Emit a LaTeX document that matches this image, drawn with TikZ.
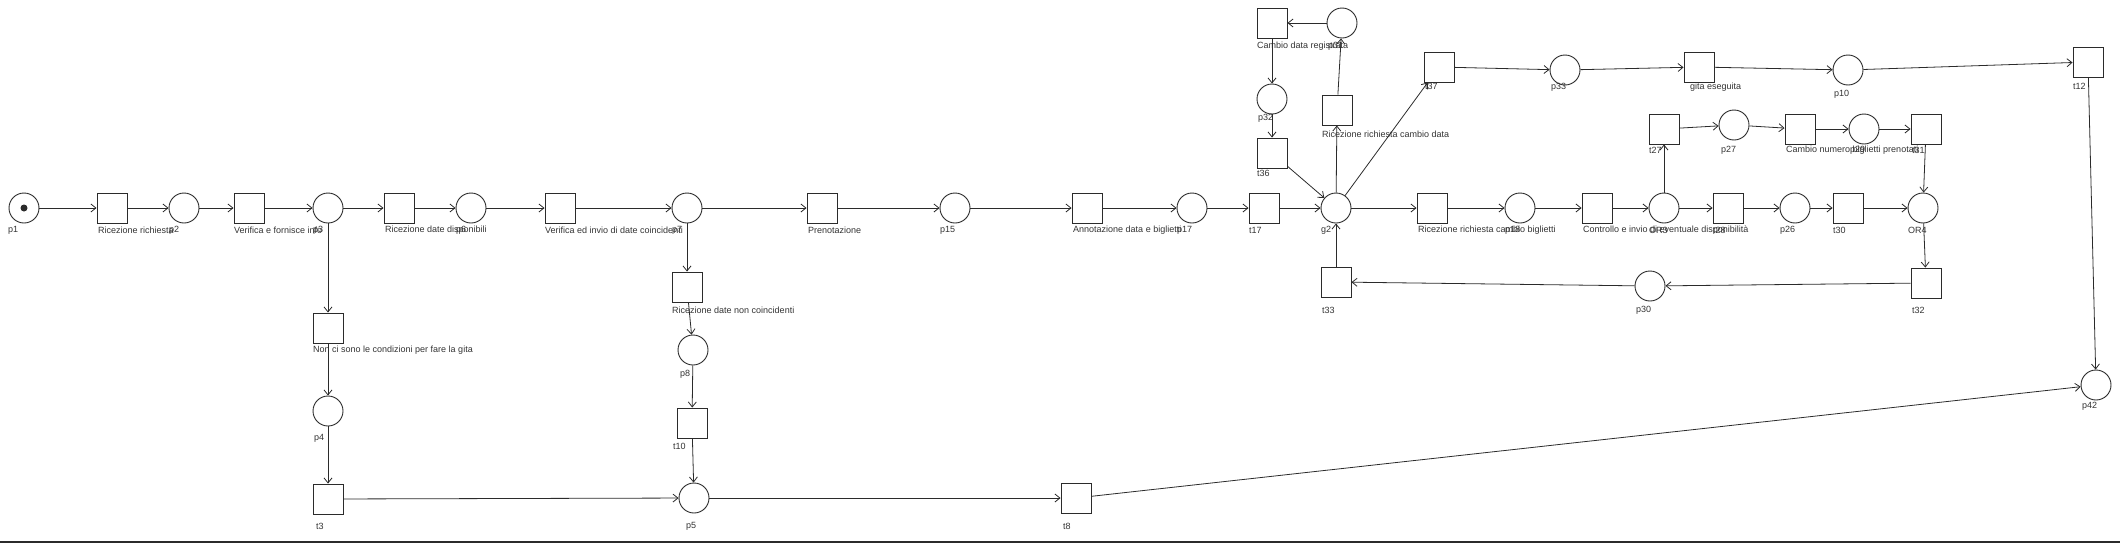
\documentclass[tikz,border=0pt]{standalone}
\usepackage{fontspec}
\setmainfont{Liberation Sans}
\usetikzlibrary{arrows.meta}
\definecolor{ink}{HTML}{2B2B2B}
\definecolor{txt}{HTML}{333333}
\tikzset{
  pl/.style={draw=ink, line width=0.9pt, circle, minimum size=30pt, inner sep=0pt},
  tr/.style={draw=ink, line width=0.9pt, rectangle, minimum size=30pt, inner sep=0pt},
  lab/.style={anchor=west, inner sep=0pt, font=\fontsize{9}{10}\selectfont, text=txt},
  arc/.style={draw=ink, line width=0.8pt, -{Straight Barb[length=5pt,width=8pt]}},
}
\begin{document}
\begin{tikzpicture}[x=1pt,y=-1pt]
\useasboundingbox (0,0) rectangle (2120,544);
% main row
\node[pl] (p1) at (24,208) {};
\fill[ink] (p1.center) circle (3.5pt);
\node[tr] (tRR) at (112,208) {};
\node[pl] (p2) at (184,208) {};
\node[tr] (tVF) at (249,208) {};
\node[pl] (p3) at (328,208) {};
\node[tr] (tRDD) at (399,208) {};
\node[pl] (p6) at (471,208) {};
\node[tr] (tVI) at (560,208) {};
\node[pl] (p7) at (687,208) {};
\node[tr] (tPR) at (822,208) {};
\node[pl] (p15) at (955,208) {};
\node[tr] (tAN) at (1087,208) {};
\node[pl] (p17) at (1192,208) {};
\node[tr] (t17) at (1264,208) {};
\node[pl] (g2) at (1336,208) {};
\node[tr] (tRCB) at (1432,208) {};
\node[pl] (p18) at (1520,208) {};
\node[tr] (tCO) at (1597,208) {};
\node[pl] (OR3) at (1664,208) {};
\node[tr] (t28) at (1728,208) {};
\node[pl] (p26) at (1795,208) {};
\node[tr] (t30) at (1848,208) {};
\node[pl] (OR4) at (1923,208) {};
% upper right row
\node[tr] (t27) at (1664,129) {};
\node[pl] (p27) at (1734,125) {};
\node[tr] (tCN) at (1800,129) {};
\node[pl] (p29) at (1864,129) {};
\node[tr] (t31) at (1926,129) {};
% lower right row
\node[tr] (t32) at (1926,283) {};
\node[pl] (p30) at (1650,286) {};
\node[tr] (t33) at (1336,282) {};
% top cluster
\node[tr] (tCDR) at (1272,23) {};
\node[pl] (p31) at (1342,23) {};
\node[pl] (p32) at (1272,99) {};
\node[tr] (t36) at (1272,153) {};
\node[tr] (tRCD) at (1337,110) {};
\node[tr] (t37) at (1439,67) {};
\node[pl] (p33) at (1565,70) {};
\node[tr] (tGE) at (1699,67) {};
\node[pl] (p10) at (1848,70) {};
\node[tr] (t12) at (2088,62) {};
\node[pl] (p42) at (2096,385) {};
% lower left
\node[tr] (tNC) at (328,328) {};
\node[pl] (p4) at (328,411) {};
\node[tr] (t3) at (328,499) {};
\node[tr] (tRDN) at (687,287) {};
\node[pl] (p8) at (693,350) {};
\node[tr] (t10) at (692,423) {};
\node[pl] (p5) at (694,498) {};
\node[tr] (t8) at (1076,498) {};
% labels
\node[lab] (l-p1) at (8,230) {p1};
\node[lab] (l-tRR) at (98,230) {Ricezione richiesta};
\node[lab] (l-p2) at (169,230) {p2};
\node[lab] (l-tVF) at (234,230) {Verifica e fornisce info};
\node[lab] (l-p3) at (313,230) {p3};
\node[lab] (l-tRDD) at (385,230) {Ricezione date disponibili};
\node[lab] (l-p6) at (456,230) {p6};
\node[lab] (l-tVI) at (545,230) {Verifica ed invio di date coincidenti};
\node[lab] (l-p7) at (672,230) {p7};
\node[lab] (l-tPR) at (808,230) {Prenotazione};
\node[lab] (l-p15) at (940,230) {p15};
\node[lab] (l-tAN) at (1073,230) {Annotazione data e biglietti};
\node[lab] (l-p17) at (1177,230) {p17};
\node[lab] (l-t17) at (1249,230) {t17};
\node[lab] (l-g2) at (1321,230) {g2};
\node[lab] (l-tRCB) at (1418,230) {Ricezione richiesta cambio biglietti};
\node[lab] (l-p18) at (1505,230) {p18};
\node[lab] (l-tCO) at (1583,230) {Controllo e invio di eventuale disponibilità};
\node[lab] (l-OR3) at (1649,230) {OR3};
\node[lab] (l-t28) at (1713,230) {t28};
\node[lab] (l-p26) at (1780,230) {p26};
\node[lab] (l-t30) at (1833,230) {t30};
\node[lab] (l-OR4) at (1908,230) {OR4};
\node[lab] (l-t27) at (1649,150) {t27};
\node[lab] (l-p27) at (1721,150) {p27};
\node[lab] (l-tCN) at (1786,150) {Cambio numero biglietti prenotati};
\node[lab] (l-p29) at (1850,150) {p29};
\node[lab] (l-t31) at (1912,150) {t31};
\node[lab] (l-t32) at (1912,310) {t32};
\node[lab] (l-p30) at (1636,310) {p30};
\node[lab] (l-t33) at (1322,310) {t33};
\node[lab] (l-tCDR) at (1257,46) {Cambio data registrata};
\node[lab] (l-p31) at (1328,46) {p31};
\node[lab] (l-p32) at (1258,118) {p32};
\node[lab] (l-t36) at (1257,173) {t36};
\node[lab] (l-tRCD) at (1322,134) {Ricezione richiesta cambio data};
\node[lab] (l-t37) at (1425,86) {t37};
\node[lab] (l-p33) at (1551,87) {p33};
\node[lab] (l-tGE) at (1690,87) {gita eseguita};
\node[lab] (l-p10) at (1834,94) {p10};
\node[lab] (l-t12) at (2073,86) {t12};
\node[lab] (l-p42) at (2082,406) {p42};
\node[lab] (l-tNC) at (313,350) {Non ci sono le condizioni per fare la gita};
\node[lab] (l-p4) at (314,438) {p4};
\node[lab] (l-t3) at (316,526) {t3};
\node[lab] (l-tRDN) at (672,310) {Ricezione date non coincidenti};
\node[lab] (l-p8) at (680,374) {p8};
\node[lab] (l-t10) at (673,446) {t10};
\node[lab] (l-p5) at (686,526) {p5};
\node[lab] (l-t8) at (1063,526) {t8};
% arcs main row
\draw[arc] (p1) -- (tRR);
\draw[arc] (tRR) -- (p2);
\draw[arc] (p2) -- (tVF);
\draw[arc] (tVF) -- (p3);
\draw[arc] (p3) -- (tRDD);
\draw[arc] (tRDD) -- (p6);
\draw[arc] (p6) -- (tVI);
\draw[arc] (tVI) -- (p7);
\draw[arc] (p7) -- (tPR);
\draw[arc] (tPR) -- (p15);
\draw[arc] (p15) -- (tAN);
\draw[arc] (tAN) -- (p17);
\draw[arc] (p17) -- (t17);
\draw[arc] (t17) -- (g2);
\draw[arc] (g2) -- (tRCB);
\draw[arc] (tRCB) -- (p18);
\draw[arc] (p18) -- (tCO);
\draw[arc] (tCO) -- (OR3);
\draw[arc] (OR3) -- (t28);
\draw[arc] (t28) -- (p26);
\draw[arc] (p26) -- (t30);
\draw[arc] (t30) -- (OR4);
% lower left
\draw[arc] (p3) -- (tNC);
\draw[arc] (tNC) -- (p4);
\draw[arc] (p4) -- (t3);
\draw[arc] (t3) -- (p5);
\draw[arc] (p7) -- (tRDN);
\draw[arc] (tRDN) -- (p8);
\draw[arc] (p8) -- (t10);
\draw[arc] (t10) -- (p5);
\draw[arc] (p5) -- (t8);
\draw[arc] (t8) -- (p42);
% top cluster
\draw[arc] (g2) -- (tRCD);
\draw[arc] (tRCD) -- (p31);
\draw[arc] (p31) -- (tCDR);
\draw[arc] (tCDR) -- (p32);
\draw[arc] (p32) -- (t36);
\draw[arc] (t36) -- (g2);
\draw[arc] (g2) -- (t37);
\draw[arc] (t37) -- (p33);
\draw[arc] (p33) -- (tGE);
\draw[arc] (tGE) -- (p10);
\draw[arc] (p10) -- (t12);
\draw[arc] (t12) -- (p42);
% right loops
\draw[arc] (OR3) -- (t27);
\draw[arc] (t27) -- (p27);
\draw[arc] (p27) -- (tCN);
\draw[arc] (tCN) -- (p29);
\draw[arc] (p29) -- (t31);
\draw[arc] (t31) -- (OR4);
\draw[arc] (OR4) -- (t32);
\draw[arc] (t32) -- (p30);
\draw[arc] (p30) -- (t33);
\draw[arc] (t33) -- (g2);
% bottom rule
\coordinate (bl) at (0,542);
\coordinate (br) at (2120,542);
\draw[ink, line width=1.4pt] (bl) -- (br);
\end{tikzpicture}
\end{document}
